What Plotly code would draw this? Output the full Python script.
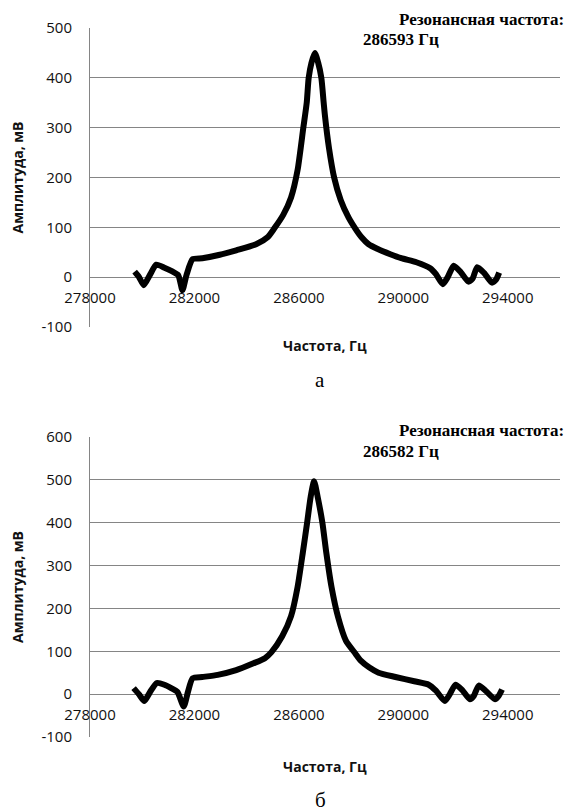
import plotly.graph_objects as go

# ---- data (top chart "а") ----
freq_a = [279710, 279880, 280060, 280300, 280540, 280850, 281170, 281380, 281540, 281700,
          281930, 282300, 282970, 283600, 284360, 284800, 285060, 285400, 285700, 285950,
          286170, 286300, 286375, 286480, 286610, 286740, 286860, 286950, 287000, 287150,
          287350, 287600, 287900, 288180, 288400, 288670, 289000, 289500, 289920, 290500,
          291030, 291250, 291510, 291700, 291930, 292200, 292490, 292650, 292830, 293100,
          293390, 293550, 293670]
amp_a = [11, 0, -16, 5, 25, 19, 11, 4, -26, 5,
         36, 38, 45, 54, 66, 80, 98, 125, 160, 215,
         300, 350, 400, 430, 450, 430, 400, 350, 323, 260,
         200, 155, 120, 96, 80, 66, 57, 46, 38, 30,
         18, 6, -14, 0, 23, 10, -9, -3, 20, 8,
         -11, -5, 9]

# ---- data (bottom chart "б") ----
freq_b = [279670, 279870, 280080, 280300, 280560, 280850, 281110, 281350, 281590, 281750,
          281930, 282300, 282890, 283600, 284260, 284700, 284950, 285360, 285700, 285950,
          286150, 286315, 286450, 286582, 286720, 286900, 287050, 287250, 287500, 287800,
          288160, 288370, 288700, 289050, 289700, 290420, 290970, 291250, 291590, 291780,
          292000, 292250, 292550, 292700, 292890, 293150, 293510, 293650, 293780]
amp_b = [14, 0, -16, 5, 26, 22, 14, 5, -29, 5,
         37, 40, 45, 56, 72, 84, 98, 135, 182, 250,
         330, 400, 460, 497, 460, 400, 330, 250, 180, 125,
         95, 78, 62, 50, 40, 30, 22, 8, -16, 0,
         22, 10, -12, -4, 20, 8, -12, -4, 11]

x_ticks = [278000, 282000, 286000, 290000, 294000]
y_ticks_a = [-100, 0, 100, 200, 300, 400, 500]
y_ticks_b = [-100, 0, 100, 200, 300, 400, 500, 600]

res_a = "286593 Гц"
res_b = "286582 Гц"
res_label = "Резонансная частота:"
x_title = "Частота, Гц"
y_title = "Амплитуда, мВ"

OFF = 8  # page body margin
W, H = 573 - OFF, 812 - OFF
GRID = "#858585"
TICKFONT = dict(family="Open Sans", size=15, color="#111")
TITLEFONT = dict(family="Open Sans", size=14, color="#111")


def py(y):
    return 1 - (y - OFF) / H


def px(x):
    return (x - OFF) / W


fig = go.Figure()
for fx, fy, xa, ya in [(freq_a, amp_a, "x", "y"), (freq_b, amp_b, "x2", "y2")]:
    fig.add_trace(go.Scatter(x=fx, y=fy, mode="lines", xaxis=xa, yaxis=ya,
                             line=dict(color="black", width=6, shape="spline", smoothing=0.6),
                             showlegend=False))

xdom = [px(90), px(560)]
xcommon = dict(range=[278000, 296000], tickvals=x_ticks, ticktext=[str(v) for v in x_ticks],
               showgrid=False, showline=False, zeroline=False, ticks="", tickfont=TICKFONT,
               domain=xdom, automargin=False, ticklabelstandoff=10)
ycommon = dict(showgrid=True, gridcolor=GRID, gridwidth=1, showline=True,
               linecolor=GRID, linewidth=1, zeroline=False, ticks="", tickfont=TICKFONT,
               title_font=TITLEFONT, ticklabelstandoff=14, automargin=False)

fig.update_layout(
    width=W, height=H, margin=dict(l=0, r=0, t=0, b=0, autoexpand=False),
    paper_bgcolor="white", plot_bgcolor="white",
    xaxis=dict(xcommon, anchor="free", position=py(277)),
    yaxis=dict(ycommon, range=[-100, 500], tickvals=y_ticks_a,
               ticktext=[str(v) for v in y_ticks_a],
               domain=[py(327), py(28)], anchor="x",
               title=dict(text="<b>" + y_title + "</b>", standoff=40)),
    xaxis2=dict(xcommon, anchor="free", position=py(694)),
    yaxis2=dict(ycommon, range=[-100, 600], tickvals=y_ticks_b,
                ticktext=[str(v) for v in y_ticks_b],
                domain=[py(737), py(437)], anchor="x2",
                title=dict(text="<b>" + y_title + "</b>", standoff=40)),
)

serif_b = dict(family="Liberation Serif", size=17, color="black")
ann = []
for (ylab, yval, ycap, ytit) in [(19, res_a, 39, 345), (430, res_b, 451, 766)]:
    ann.append(dict(text="<b>" + res_label + "</b>", x=px(566), y=py(ylab), xref="paper",
                    yref="paper", xanchor="right", yanchor="middle", showarrow=False,
                    font=serif_b))
    ann.append(dict(text="<b>" + yval + "</b>", x=px(361), y=py(ycap), xref="paper",
                    yref="paper", xanchor="left", yanchor="middle", showarrow=False,
                    font=serif_b))
    ann.append(dict(text="<b>" + x_title + "</b>", x=px(325), y=py(ytit), xref="paper",
                    yref="paper", xanchor="center", yanchor="middle", showarrow=False,
                    font=TITLEFONT))
for (yc, cap) in [(380, "а"), (800, "б")]:
    ann.append(dict(text=cap, x=px(320), y=py(yc), xref="paper", yref="paper",
                    xanchor="center", yanchor="middle", showarrow=False,
                    font=dict(family="Liberation Serif", size=21, color="black")))
fig.update_layout(annotations=ann)

fig.write_html("out.html")
